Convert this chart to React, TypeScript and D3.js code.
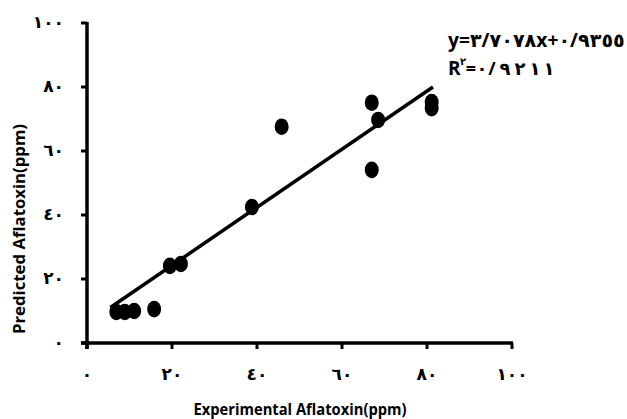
import React, { useLayoutEffect, useRef, useState } from "react";
import * as d3 from "d3";

const experimental = [6.9, 8.9, 11.1, 15.8, 19.5, 22.1, 38.8, 45.8, 67.0, 67.0, 68.5, 81.1, 81.1];
const predicted = [9.7, 9.7, 10.0, 10.6, 24.1, 24.7, 42.5, 67.6, 75.1, 54.1, 69.7, 75.3, 73.4];
const fitX = [5.5, 81.4];
const fitY = [11.1, 80.0];
const tickValues = [0, 20, 40, 60, 80, 100];
const tickLabels = ["٠", "٢٠", "٤٠", "٦٠", "٨٠", "١٠٠"];
const xTitle = "Experimental Aflatoxin(ppm)";
const yTitle = "Predicted Aflatoxin(ppm)";
const eqLine1 = "y=٣/٧٠٧٨x+٠/٩٣٥٥";
const eqR = "R";
const eqSup = "٢";
const eqLine2Chars = ["=", "٠", "/", "٩", "٢", "١", "١"];

const W = 627;
const H = 419;
const FONT = "'Open Sans', 'DejaVu Sans', sans-serif";
const DIGIT_FONT = "'DejaVu Sans', sans-serif";

function FitText(props: {
  x: number;
  y: number;
  width: number;
  fontSize: number;
  text: string;
  family: string;
}) {
  const ref = useRef<SVGTextElement>(null);
  const [sx, setSx] = useState(1);
  useLayoutEffect(() => {
    if (ref.current) {
      const b = ref.current.getBoundingClientRect();
      const w = b.width / sx;
      if (w > 0) setSx(props.width / w);
    }
  }, [props.width, props.text]);
  return (
    <g transform={`translate(${props.x},${props.y}) scale(${sx},1)`}>
      <text
        ref={ref}
        x={0}
        y={0}
        fontFamily={props.family}
        fontWeight="bold"
        fontSize={props.fontSize}
      >
        {props.text}
      </text>
    </g>
  );
}

export default function App() {
  const x = d3.scaleLinear().domain([0, 100]).range([87, 512]);
  const y = d3.scaleLinear().domain([0, 100]).range([343, 23]);
  const line = d3
    .line<number>()
    .x((_, i) => x(fitX[i]))
    .y((d) => y(d));
  const bidi: React.CSSProperties = { direction: "ltr", unicodeBidi: "bidi-override" };
  const eq2Pos = [471, 482, 492, 505, 520, 535, 549];

  return (
    <svg
      width={W}
      height={H}
      style={{ position: "absolute", left: 0, top: 0, background: "#fff" }}
    >
      <rect x={0} y={0} width={W} height={H} fill="#fff" />
      {/* axes */}
      <line x1={x(0)} x2={x(0)} y1={y(100) - 1} y2={y(0) + 6} stroke="#000" strokeWidth={3.5} />
      <line x1={x(0) - 6} x2={x(100) + 1} y1={y(0)} y2={y(0)} stroke="#000" strokeWidth={3.5} />
      {tickValues.map((v, i) => (
        <g key={"yt" + i}>
          <line x1={x(0) - 6} x2={x(0)} y1={y(v)} y2={y(v)} stroke="#000" strokeWidth={3} />
          <text
            x={64}
            y={y(v) + 4.5}
            textAnchor="end"
            fontFamily={DIGIT_FONT}
            fontWeight="bold"
            fontSize={17}
            style={bidi}
          >
            {tickLabels[i]}
          </text>
        </g>
      ))}
      {tickValues.map((v, i) => (
        <g key={"xt" + i}>
          <line x1={x(v)} x2={x(v)} y1={y(0)} y2={y(0) + 6} stroke="#000" strokeWidth={3} />
          <text
            x={x(v)}
            y={380}
            textAnchor="middle"
            fontFamily={DIGIT_FONT}
            fontWeight="bold"
            fontSize={17}
            style={bidi}
          >
            {tickLabels[i]}
          </text>
        </g>
      ))}
      {/* fit line */}
      <path d={line(fitY) || ""} fill="none" stroke="#000" strokeWidth={3.5} />
      {/* points */}
      {experimental.map((v, i) => (
        <ellipse key={"p" + i} cx={x(v)} cy={y(predicted[i])} rx={7} ry={8.3} fill="#000" />
      ))}
      {/* titles */}
      <text
        x={300}
        y={415}
        textAnchor="middle"
        fontFamily={FONT}
        fontWeight="bold"
        fontSize={16.5}
        textLength={213}
        lengthAdjust="spacingAndGlyphs"
      >
        {xTitle}
      </text>
      <text
        transform="translate(25,229) rotate(-90)"
        textAnchor="middle"
        fontFamily={FONT}
        fontWeight="bold"
        fontSize={16.5}
        textLength={210}
        lengthAdjust="spacingAndGlyphs"
      >
        {yTitle}
      </text>
      {/* equation */}
      <FitText x={448} y={47} width={177} fontSize={19} text={eqLine1} family={FONT} />
      <text x={448} y={75} fontFamily={FONT} fontWeight="bold" fontSize={19}>
        {eqR}
      </text>
      <text x={460} y={65} fontFamily={DIGIT_FONT} fontWeight="bold" fontSize={10}>
        {eqSup}
      </text>
      {eqLine2Chars.map((c, i) => (
        <text
          key={"eq" + i}
          x={eq2Pos[i]}
          y={75}
          textAnchor="middle"
          fontFamily={FONT}
          fontWeight="bold"
          fontSize={18}
        >
          {c}
        </text>
      ))}
    </svg>
  );
}
